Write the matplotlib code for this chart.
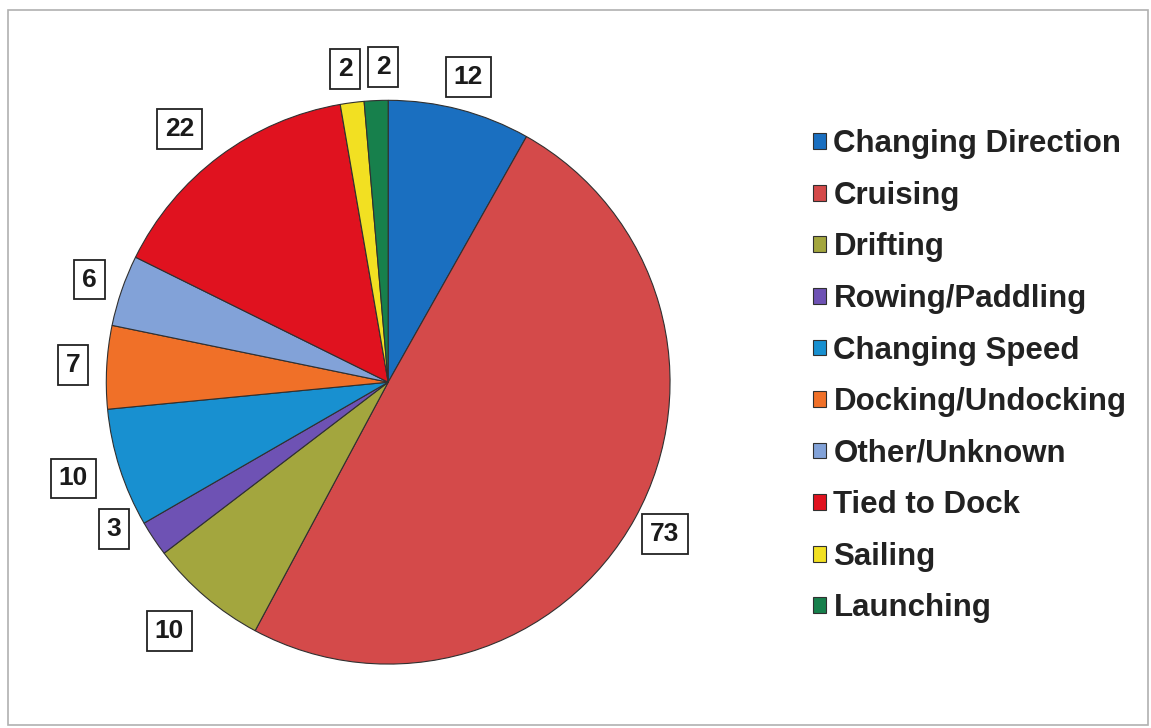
import matplotlib
matplotlib.use('Agg')
import matplotlib.pyplot as plt
from matplotlib.patches import Rectangle

categories = ['Changing Direction', 'Cruising', 'Drifting', 'Rowing/Paddling',
              'Changing Speed', 'Docking/Undocking', 'Other/Unknown',
              'Tied to Dock', 'Sailing', 'Launching']
counts = [12, 73, 10, 3, 10, 7, 6, 22, 2, 2]
colors = ['#1a6fc0', '#d44a4a', '#a3a63e', '#6e52b4', '#1890d0',
          '#f07028', '#82a2d8', '#e0121f', '#f2e022', '#17804c']


def main():
    plt.rcParams['font.family'] = ['Liberation Sans', 'DejaVu Sans']
    fig = plt.figure(figsize=(11.51, 7.28), dpi=100)

    # outer frame
    fig.patches.append(Rectangle((0.007, 0.004), 0.99, 0.982, transform=fig.transFigure,
                                 fill=False, edgecolor='#b0b0b0', lw=1.2))

    ax = fig.add_axes([0.031, -0.009, 0.6125, 0.968])
    wedges, texts = ax.pie(counts, colors=colors, startangle=90, counterclock=False,
                           labels=[str(c) for c in counts], labeldistance=1.12,
                           wedgeprops=dict(edgecolor='#303030', linewidth=0.8))
    for t in texts:
        t.set_fontsize(19)
        t.set_fontweight('bold')
        t.set_ha('center')
        t.set_va('center')
        t.set_color('#1a1a1a')
        t.set_bbox(dict(boxstyle='square,pad=0.3', fc='white', ec='#222222', lw=1.3))
    # nudge crowded labels a little
    x, y = texts[8].get_position()
    texts[8].set_position((x - 0.01, y))
    x, y = texts[9].get_position()
    texts[9].set_position((x + 0.03, y))
    x, y = texts[3].get_position()
    texts[3].set_position((x - 0.04, y + 0.1))
    x, y = texts[4].get_position()
    texts[4].set_position((x - 0.05, y))
    x, y = texts[7].get_position()
    texts[7].set_position((x - 0.07, y))
    x, y = texts[2].get_position()
    texts[2].set_position((x - 0.05, y - 0.03))
    ax.set_aspect('equal')

    leg = fig.legend(wedges, categories, loc='upper left', bbox_to_anchor=(0.682, 0.861),
                     frameon=False, fontsize=22.5, handlelength=0.4, handleheight=0.4,
                     handletextpad=0.25, labelspacing=0.69)
    for t in leg.get_texts():
        t.set_color('#222222')
        t.set_fontweight('bold')

    fig.savefig('out.png', dpi=100)
    plt.close(fig)


if __name__ == '__main__':

    main()
